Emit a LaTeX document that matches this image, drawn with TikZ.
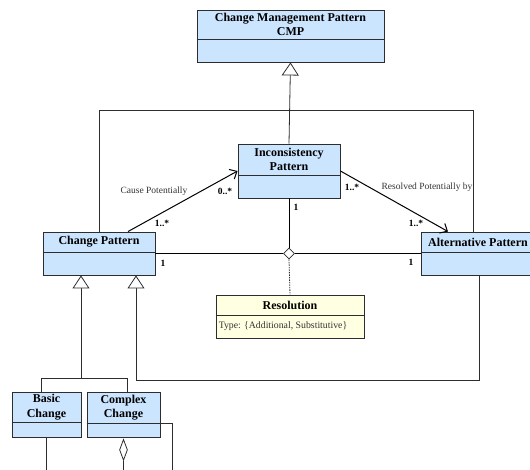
\documentclass[tikz,border=0pt]{standalone}
\usepackage{fontspec}
\setmainfont{Liberation Serif}
\usetikzlibrary{arrows.meta,shapes.geometric}
\definecolor{clsblue}{RGB}{204,229,255}
\definecolor{resyel}{RGB}{255,255,226}
\definecolor{edgec}{RGB}{45,45,45}
\begin{document}
\begin{tikzpicture}[x=1pt,y=-1pt,
  box/.style={draw=edgec, line width=0.9pt, fill=clsblue, inner sep=0pt, rectangle},
  ttl/.style={font=\fontsize{12}{14.5}\selectfont\bfseries, align=center, inner sep=0pt},
  lbl/.style={font=\fontsize{9.5}{11}\selectfont, text=black!80, inner sep=0pt},
  mult/.style={font=\fontsize{9.5}{11}\selectfont\bfseries, inner sep=0pt},
  attr/.style={font=\fontsize{9.8}{11}\selectfont, text=black!80, inner sep=0pt, anchor=west},
  ln/.style={draw=edgec, line width=0.8pt},
  gen/.style={ln, -{Triangle[length=13pt, width=17pt, fill=white]}},
  nav/.style={draw=black, line width=1pt, -{Straight Barb[length=6pt, width=11pt]}},
  agg/.style={diamond, draw=edgec, line width=0.8pt, fill=white, inner sep=0pt, aspect=1}
]
\useasboundingbox (0,0) rectangle (530,470);
\clip (0,0) rectangle (530,470);

% classes
\node[box, minimum width=187pt, minimum height=52pt] (cmp) at (290.5,36) {};
\draw[ln] ([yshift=-30pt]cmp.north west) -- ([yshift=-30pt]cmp.north east);
\node[ttl] (cmpt) at ([yshift=-15pt]cmp.north) {Change Management Pattern\\CMP};

\node[box, minimum width=102pt, minimum height=54pt] (inc) at (289,171) {};
\draw[ln] ([yshift=-32pt]inc.north west) -- ([yshift=-32pt]inc.north east);
\node[ttl] (inct) at ([yshift=-16pt]inc.north) {Inconsistency\\Pattern};

\node[box, minimum width=112pt, minimum height=43pt] (chp) at (99,253.5) {};
\draw[ln] ([yshift=-21pt]chp.north west) -- ([yshift=-21pt]chp.north east);
\node[ttl] (chpt) at ([yshift=-10.5pt]chp.north) {Change Pattern};

\node[box, minimum width=114pt, minimum height=43pt] (alt) at (478,253.5) {};
\draw[ln] ([yshift=-21pt]alt.north west) -- ([yshift=-21pt]alt.north east);
\node[ttl] (altt) at ([yshift=-10.5pt]alt.north) {Alternative Pattern};

\node[box, fill=resyel, minimum width=148pt, minimum height=43pt] (res) at (290,316.5) {};
\draw[ln] ([yshift=-21pt]res.north west) -- ([yshift=-21pt]res.north east);
\node[ttl] (rest) at ([yshift=-10.5pt]res.north) {Resolution};
\node[attr] (resa) at ([xshift=3pt,yshift=-32pt]res.north west) {Type: \{Additional, Substitutive\}};

\node[box, minimum width=69pt, minimum height=45pt] (bas) at (46.5,414.5) {};
\draw[ln] ([yshift=-31pt]bas.north west) -- ([yshift=-31pt]bas.north east);
\node[ttl] (bast) at ([yshift=-15.5pt]bas.north) {Basic\\Change};

\node[box, minimum width=73pt, minimum height=45pt] (cpx) at (123.5,414.5) {};
\draw[ln] ([yshift=-32pt]cpx.north west) -- ([yshift=-32pt]cpx.north east);
\node[ttl] (cpxt) at ([yshift=-16pt]cpx.north) {Complex\\Change};

% generalisation to CMP
\coordinate (j) at (289,110);
\draw[gen] (inc.north) -- (cmp.south);
\draw[ln] (chp.north) |- (j);
\draw[ln] ([xshift=-5pt]alt.north) |- (j);

% navigable associations
\draw[nav] ([xshift=29pt]chp.north) -- (inc.west);
\draw[nav] (inc.east) -- ([xshift=-30pt]alt.north);
\node[lbl] (l1) at (154,191) {Cause Potentially};
\node[mult] (m1) at (225,191) {0..*};
\node[mult] (m2) at (162,223) {1..*};
\node[lbl] (l2) at (427,187) {Resolved Potentially by};
\node[mult] (m3) at (352,187) {1..*};
\node[mult] (m4) at (416,223) {1..*};

% n-ary association
\node[agg, minimum width=11pt, minimum height=11pt] (dia) at (289,253.5) {};
\draw[ln, line width=1pt, draw=black] (inc.south) -- (dia.north);
\draw[ln, line width=1pt, draw=black] (chp.east) -- (dia.west);
\draw[ln, line width=1pt, draw=black] (dia.east) -- (alt.west);
\draw[ln, dash pattern=on 1.5pt off 1pt] (dia.south) -- (res.north);
\node[mult] (m5) at (296,207) {1};
\node[mult] (m6) at (163,263) {1};
\node[mult] (m7) at (411,262) {1};

% generalisations to Change Pattern
\coordinate (g1) at (81,378);
\coordinate (g2) at (136,380);
\draw[gen] ([xshift=-5.5pt]bas.north) |- (g1) -- ([xshift=-18pt]chp.south);
\draw[ln] ([xshift=3.5pt]cpx.north) |- (g1);
\draw[gen] ([xshift=1pt]alt.south) |- (g2) -- ([xshift=37pt]chp.south);

% lower fragments
\node[agg, minimum width=8pt, minimum height=21pt, aspect=0.4, anchor=north] (cd) at ([yshift=-1.5pt]cpx.south) {};
\coordinate (b1) at (46.5,470);
\coordinate (b2) at (123.5,470);
\coordinate (b3) at (172,470);
\draw[ln] (bas.south) -- (b1);
\draw[ln] (cd.south) -- (b2);
\draw[ln] ([yshift=-8.5pt]cpx.east) -| (b3);
\end{tikzpicture}
\end{document}
